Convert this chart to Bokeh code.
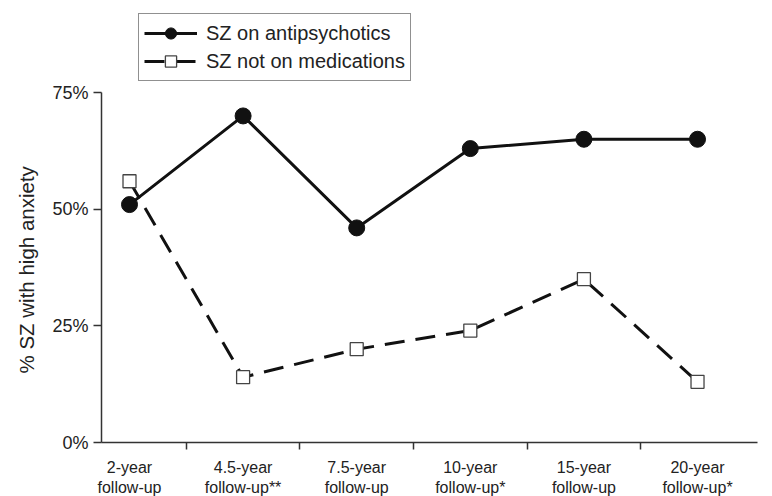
from bokeh.plotting import figure
from bokeh.models import Range1d, FixedTicker, Legend, LegendItem, Title
from bokeh.embed import file_html
from bokeh.resources import INLINE

categories = ["2-year\nfollow-up", "4.5-year\nfollow-up**", "7.5-year\nfollow-up",
              "10-year\nfollow-up*", "15-year\nfollow-up", "20-year\nfollow-up*"]
on_antipsychotics = [51, 70, 46, 63, 65, 65]
not_on_medications = [56, 14, 20, 24, 35, 13]
y_ticks = [0, 25, 50, 75]
y_tick_labels = ["0%", "25%", "50%", "75%"]

xs = list(range(len(categories)))

p = figure(frame_width=656, frame_height=432, output_backend="svg", toolbar_location=None,
           x_range=Range1d(-0.2465, 5.528), y_range=Range1d(0, 92.6),
           min_border_left=101, min_border_right=5, min_border_top=10, min_border_bottom=0)
p.outline_line_color = None
p.grid.grid_line_color = None
p.background_fill_color = "white"

FONT = "Liberation Sans"
AX = "#333333"
TXT = "#222222"

# y axis
p.yaxis.bounds = (0, 75)
p.yaxis.ticker = FixedTicker(ticks=y_ticks)
p.yaxis.major_label_overrides = {t: l for t, l in zip(y_ticks, y_tick_labels)}
p.yaxis.major_tick_out = 8
p.yaxis.major_tick_in = 0
p.yaxis.minor_tick_line_color = None
p.yaxis.axis_line_color = AX
p.yaxis.axis_line_width = 1.5
p.yaxis.major_tick_line_color = AX
p.yaxis.major_tick_line_width = 1.5
p.yaxis.major_label_text_font = FONT
p.yaxis.major_label_text_font_size = "18px"
p.yaxis.major_label_text_color = TXT
p.yaxis.major_label_standoff = 5

# x axis
p.xaxis.bounds = (-0.2465, 5.528)
p.xaxis.ticker = FixedTicker(ticks=xs, minor_ticks=[0.5, 1.5, 2.5, 3.5, 4.5])
p.xaxis.major_label_overrides = {i: c for i, c in zip(xs, categories)}
p.xaxis.major_tick_line_color = None
p.xaxis.major_tick_out = 0
p.xaxis.major_tick_in = 0
p.xaxis.minor_tick_out = 7
p.xaxis.minor_tick_in = 0
p.xaxis.minor_tick_line_color = AX
p.xaxis.minor_tick_line_width = 1.5
p.xaxis.axis_line_color = AX
p.xaxis.axis_line_width = 1.5
p.xaxis.major_label_text_font = FONT
p.xaxis.major_label_text_font_size = "16px"
p.xaxis.major_label_text_color = TXT
p.xaxis.major_label_standoff = 9

# y axis title, placed along the bounded (0-75%) part of the axis
ytitle = Title(text="% SZ with high anxiety", align="left", offset=69,
               text_font=FONT, text_font_size="20.5px", text_font_style="normal",
               text_color=TXT, standoff=24)
p.add_layout(ytitle, "left")

r1l = p.line(xs, on_antipsychotics, line_color="#111111", line_width=3)
r1m = p.scatter(xs, on_antipsychotics, marker="circle", size=16,
                fill_color="#111111", line_color="#111111")
r2l = p.line(xs, not_on_medications, line_color="#111111", line_width=3, line_dash="20 11")
r2m = p.scatter(xs, not_on_medications, marker="square", size=13,
                fill_color="white", line_color="#444444", line_width=1.3)

legend = Legend(items=[
    LegendItem(label="SZ on antipsychotics", renderers=[r1l, r1m]),
    LegendItem(label="SZ not on medications", renderers=[r2l, r2m]),
], location=(37, 361))
legend.border_line_color = "#222222"
legend.border_line_width = 1.5
legend.label_text_font = FONT
legend.label_text_font_size = "20px"
legend.label_text_color = TXT
legend.glyph_width = 53
legend.glyph_height = 28
legend.label_height = 24
legend.spacing = 0
legend.padding = 5
legend.margin = 0
legend.label_standoff = 9
legend.background_fill_alpha = 1
p.add_layout(legend)

open("out.html", "w").write(file_html(p, INLINE))
